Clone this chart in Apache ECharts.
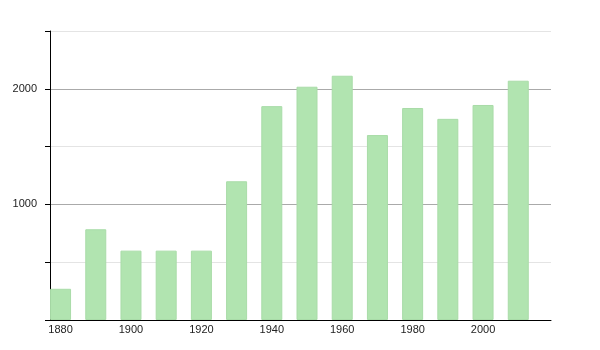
<!DOCTYPE html>
<html>
<head>
<meta charset="utf-8">
<script src="https://cdn.jsdelivr.net/npm/echarts@6/dist/echarts.min.js"></script>
<style>html,body{margin:0;padding:0;background:#fff;}#c{width:600px;height:350px;}</style>
</head>
<body>
<div id="c"></div>
<script>
const years = [1880, 1890, 1900, 1910, 1920, 1930, 1940, 1950, 1960, 1970, 1980, 1990, 2000, 2010];
const values = [270, 785, 600, 600, 600, 1200, 1850, 2018, 2113, 1600, 1834, 1740, 1860, 2070];
const xTickLabels = [1880, 1900, 1920, 1940, 1960, 1980, 2000];
const yTickLabels = [1000, 2000];

const chart = echarts.init(document.getElementById('c'), null, {renderer: 'canvas'});
chart.setOption({
  animation: false,
  grid: {left: 50, right: 49, top: 31, bottom: 30, containLabel: false},
  xAxis: {
    type: 'value',
    min: 1877,
    max: 2019.3,
    axisLine: {show: true, lineStyle: {color: '#000', width: 1}},
    axisTick: {show: false},
    splitLine: {show: false},
    axisLabel: {
      customValues: xTickLabels,
      color: '#222',
      fontSize: 11,
      fontFamily: 'Liberation Sans, Arial, sans-serif',
      margin: 4,
      formatter: v => String(v)
    }
  },
  yAxis: {
    type: 'value',
    min: 0,
    max: 2500,
    interval: 500,
    axisLine: {show: true, lineStyle: {color: '#000', width: 1}},
    axisTick: {show: true, length: 5, lineStyle: {color: '#000'}},
    splitLine: {show: true, lineStyle: {color: ['#aaaaaa', '#e4e4e4'], width: 1}},
    axisLabel: {
      color: '#222',
      fontSize: 11,
      fontFamily: 'Liberation Sans, Arial, sans-serif',
      margin: 13,
      formatter: v => yTickLabels.indexOf(v) >= 0 ? String(v) : ''
    }
  },
  series: [{
    type: 'bar',
    barWidth: 21,
    data: years.map((y, i) => [y, values[i]]),
    itemStyle: {color: '#b1e4b0', borderColor: '#a9dca8', borderWidth: 1}
  }]
});
</script>
</body>
</html>
